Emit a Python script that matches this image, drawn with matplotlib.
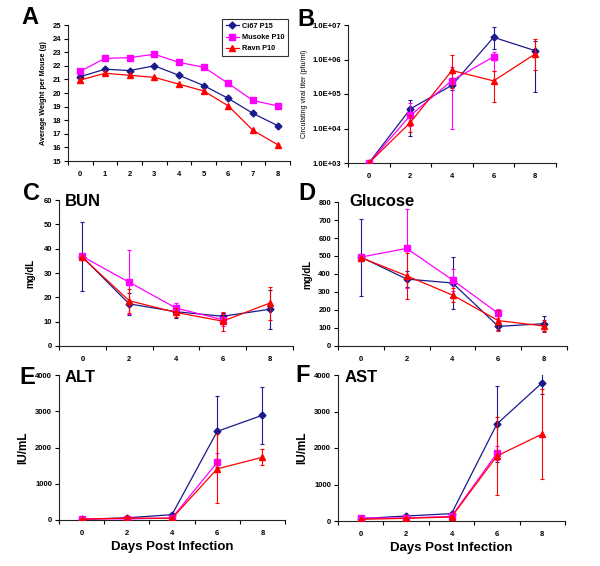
import numpy as np
import matplotlib
matplotlib.use('Agg')
import matplotlib.pyplot as plt
from matplotlib.ticker import FixedLocator, FixedFormatter, NullFormatter

plt.rcParams['font.family'] = ['Liberation Sans', 'DejaVu Sans']

nan = np.nan

# series names and styles
names = ['Ci67 P15', 'Musoke P10', 'Ravn P10']
colors = ['#1a1a8c', '#ff00ff', '#ff0000']
markers = ['D', 's', '^']
msizes = [3.5, 5.0, 5.0]

# A - weight, days 0..8
days_a = [0, 1, 2, 3, 4, 5, 6, 7, 8]
wt_ci67 = [21.2, 21.75, 21.65, 22.0, 21.3, 20.55, 19.6, 18.5, 17.6]
wt_musoke = [21.6, 22.55, 22.6, 22.85, 22.25, 21.9, 20.7, 19.45, 19.05]
wt_ravn = [20.95, 21.45, 21.3, 21.15, 20.65, 20.15, 19.05, 17.25, 16.2]

days = [0, 2, 4, 6, 8]

# B - viral titer (pfu/ml), with lower / upper error bounds
titer_ci67 = [1e3, 3.7e4, 1.8e5, 4.4e6, 1.8e6]
titer_ci67_lo = [nan, 6.2e3, 1.3e5, 2.0e6, 1.17e5]
titer_ci67_hi = [nan, 6.8e4, 2.5e5, 8.9e6, 3.5e6]
titer_musoke = [1e3, 2.4e4, 2.46e5, 1.2e6, nan]
titer_musoke_lo = [nan, 1.2e4, 9.6e3, 4.5e5, nan]
titer_musoke_hi = [nan, 5.5e4, 6e5, 1.7e6, nan]
titer_ravn = [1e3, 1.5e4, 4.8e5, 2.4e5, 1.45e6]
titer_ravn_lo = [nan, 8e3, 1.5e5, 6e4, 5e5]
titer_ravn_hi = [nan, 2.5e4, 1.38e6, 4.5e5, 3.9e6]

# C - BUN (mg/dL)
bun_ci67 = [36.6, 17.3, 14.1, 12.2, 15.1]
bun_ci67_err = [14.2, 4.5, 2.7, 1.5, 8.1]
bun_musoke = [36.8, 26.2, 15.6, 10.8, nan]
bun_musoke_err = [nan, 13.2, 2.2, 2.5, nan]
bun_ravn = [36.4, 18.6, 13.8, 10.2, 17.6]
bun_ravn_err = [nan, 5.0, 2.0, 3.9, 6.8]

# D - Glucose (mg/dL)
glu_ci67 = [494, 372, 350, 109, 124]
glu_ci67_err = [214, 42, 145, 20, 40]
glu_musoke = [494, 542, 367, 181, nan]
glu_musoke_err = [nan, 218, 61, 25, nan]
glu_ravn = [491, 390, 283, 141, 111]
glu_ravn_err = [nan, 127, 40, 60, 35]

# E - ALT (IU/mL)
alt_ci67 = [20, 60, 147, 2445, 2890]
alt_ci67_err = [10, 40, 40, 985, 780]
alt_musoke = [37, 28, 55, 1590, nan]
alt_musoke_err = [nan, 20, 20, 250, nan]
alt_ravn = [18, 55, 46, 1410, 1730]
alt_ravn_err = [10, 60, 20, 950, 220]

# F - AST (IU/mL)
ast_ci67 = [64, 137, 201, 2658, 3790]
ast_ci67_err = [15, 30, 30, 1040, 300]
ast_musoke = [82, 82, 128, 1855, nan]
ast_musoke_err = [nan, 20, 30, 190, nan]
ast_ravn = [46, 73, 110, 1781, 2384]
ast_ravn_err = [10, 20, 20, 1080, 1230]

W, H = 600, 566
fig = plt.figure(figsize=(W / 100, H / 100), dpi=100)


def make_ax(left, top, right, bottom):
    return fig.add_axes([left / W, 1 - bottom / H, (right - left) / W, (bottom - top) / H])


def style_ax(ax, xs, step):
    for s in ['top', 'right']:
        ax.spines[s].set_visible(False)
    for s in ['left', 'bottom']:
        ax.spines[s].set_linewidth(0.8)
        ax.spines[s].set_color('#222222')
    ax.set_xlim(xs[0] - step / 2, xs[-1] + step / 2)
    ax.set_xticks(xs)
    ax.set_xticklabels([str(v) for v in xs])
    bounds = [v - step / 2 for v in xs] + [xs[-1] + step / 2]
    ax.xaxis.set_minor_locator(FixedLocator(bounds))
    ax.tick_params(axis='x', which='major', length=0, pad=7, labelsize=5.5)
    ax.tick_params(axis='x', which='minor', length=3, width=0.8, direction='out')
    ax.tick_params(axis='y', which='major', length=3, width=0.8, direction='out', pad=2, labelsize=5.5)
    for lab in ax.get_xticklabels() + ax.get_yticklabels():
        lab.set_fontweight('bold')


def draw(ax, xs, series, errs=None):
    for i, ys in enumerate(series):
        yerr = None if errs is None else errs[i]
        ax.errorbar(xs, ys, yerr=yerr, color=colors[i], marker=markers[i], ms=msizes[i],
                    lw=0.9, elinewidth=0.8, capsize=1.5, capthick=0.8,
                    label=names[i], zorder=3 + i)


# ---- A ----
axA = make_ax(68, 25, 290, 161)
draw(axA, days_a, [wt_ci67, wt_musoke, wt_ravn])
axA.set_ylim(15, 25)
axA.set_yticks(range(15, 26))
style_ax(axA, days_a, 1)
axA.set_ylabel('Average Weight per Mouse (g)', fontsize=5.2, fontweight='bold', labelpad=4)
leg = axA.legend(loc='upper right', bbox_to_anchor=(1.0, 1.06), fontsize=5.3, frameon=True,
                 fancybox=False, edgecolor='black', handlelength=1.7, borderpad=0.5,
                 labelspacing=0.55, handletextpad=0.4, borderaxespad=0.3)
leg.get_frame().set_linewidth(0.8)
for t in leg.get_texts():
    t.set_fontweight('bold')

# ---- B ----
axB = make_ax(348, 25, 556, 163)
axB.set_yscale('log')
for i, (y, lo, hi) in enumerate([(titer_ci67, titer_ci67_lo, titer_ci67_hi),
                                  (titer_musoke, titer_musoke_lo, titer_musoke_hi),
                                  (titer_ravn, titer_ravn_lo, titer_ravn_hi)]):
    y = np.array(y)
    err = np.array([y - np.array(lo), np.array(hi) - y])
    axB.errorbar(days, y, yerr=err, color=colors[i], marker=markers[i], ms=msizes[i],
                 lw=0.9, elinewidth=0.8, capsize=1.5, capthick=0.8, zorder=3 + i)
axB.set_ylim(1e3, 1e7)
axB.yaxis.set_major_locator(FixedLocator([1e3, 1e4, 1e5, 1e6, 1e7]))
axB.yaxis.set_major_formatter(FixedFormatter(['1.0E+03', '1.0E+04', '1.0E+05', '1.0E+06', '1.0E+07']))
axB.yaxis.set_minor_formatter(NullFormatter())
axB.tick_params(axis='y', which='minor', length=0)
style_ax(axB, days, 2)
axB.set_ylabel('Circulating viral titer (pfu/ml)', fontsize=5, labelpad=3)

# ---- C ----
axC = make_ax(59, 200, 293, 346)
draw(axC, days, [bun_ci67, bun_musoke, bun_ravn], [bun_ci67_err, bun_musoke_err, bun_ravn_err])
axC.set_ylim(0, 60)
axC.set_yticks(range(0, 61, 10))
style_ax(axC, days, 2)
axC.set_ylabel('mg/dL', fontsize=7, fontweight='bold', labelpad=6)

# ---- D ----
axD = make_ax(338, 202, 567, 346)
draw(axD, days, [glu_ci67, glu_musoke, glu_ravn], [glu_ci67_err, glu_musoke_err, glu_ravn_err])
axD.set_ylim(0, 800)
axD.set_yticks(range(0, 801, 100))
style_ax(axD, days, 2)
axD.set_ylabel('mg/dL', fontsize=7, fontweight='bold', labelpad=4)

# ---- E ----
axE = make_ax(59, 375, 285, 520)
draw(axE, days, [alt_ci67, alt_musoke, alt_ravn], [alt_ci67_err, alt_musoke_err, alt_ravn_err])
axE.set_ylim(0, 4000)
axE.set_yticks(range(0, 4001, 1000))
style_ax(axE, days, 2)
axE.set_ylabel('IU/mL', fontsize=8.5, fontweight='bold', labelpad=4)
axE.set_xlabel('Days Post Infection', fontsize=9.5, fontweight='bold', labelpad=3)

# ---- F ----
axF = make_ax(338, 375, 565, 521)
draw(axF, days, [ast_ci67, ast_musoke, ast_ravn], [ast_ci67_err, ast_musoke_err, ast_ravn_err])
axF.set_ylim(0, 4000)
axF.set_yticks(range(0, 4001, 1000))
style_ax(axF, days, 2)
axF.set_ylabel('IU/mL', fontsize=8.5, fontweight='bold', labelpad=4)
axF.set_xlabel('Days Post Infection', fontsize=9.5, fontweight='bold', labelpad=3)

# panel letters and titles
for letter, x, y in [('A', 30, 18), ('B', 306, 19), ('C', 31, 193), ('D', 307, 193),
                     ('E', 27, 377), ('F', 303, 376)]:
    fig.text(x / W, 1 - y / H, letter, fontsize=17, fontweight='bold', ha='center', va='center')
for title, x, y in [('BUN', 65, 201), ('Glucose', 349, 202), ('ALT', 65, 377), ('AST', 345, 377)]:
    fig.text(x / W, 1 - y / H, title, fontsize=12, fontweight='bold', ha='left', va='center')

fig.savefig('out.png', dpi=100, facecolor='white')
